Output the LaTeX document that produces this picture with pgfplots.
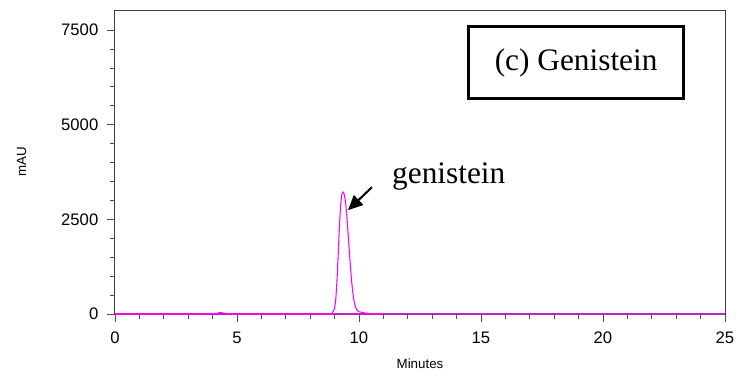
\documentclass[border=0pt]{standalone}
\usepackage{pgfplots}
\pgfplotsset{compat=1.18}
\usepackage{fontspec}
\setmainfont{Liberation Serif}
\setsansfont{Liberation Sans}
\usetikzlibrary{arrows.meta}
\definecolor{mag}{RGB}{255,0,255}
\definecolor{base}{RGB}{200,30,210}
\begin{document}
\begin{tikzpicture}
\begin{axis}[
  scale only axis,
  width=457.5pt, height=228pt,
  xmin=0, xmax=25, ymin=0, ymax=8030,
  xtick={0,5,...,25}, ytick={0,2500,5000,7500},
  minor x tick num=4, minor y tick num=4,
  tick align=outside,
  xtick pos=bottom, ytick pos=left,
  major tick length=6pt, minor tick length=3.75pt,
  every tick/.style={black!70, line width=0.6pt},
  axis line style={black!75, line width=0.75pt},
  tick label style={font=\sffamily\fontsize{12.5}{14}\selectfont},
  /pgf/number format/assume math mode=true,
  /pgf/number format/set thousands separator={},
  xticklabel style={yshift=-4pt},
  yticklabel style={xshift=-3pt},
  xlabel={Minutes}, ylabel={mAU},
  label style={font=\sffamily\fontsize{10}{12}\selectfont},
  xlabel style={at={(axis description cs:0.5,-0.162)}, anchor=center},
  ylabel style={at={(axis description cs:-0.153,0.5)}, anchor=center},
  clip=false,
]
\addplot[base, line width=1.1pt] coordinates {(0,0) (25,0)};
\addplot[mag, line width=0.8pt] coordinates {
(0,0) (4.0,0) (4.15,10) (4.3,40) (4.45,25) (4.6,5) (4.75,0) (8.8,0)
(8.9,20) (9.0,150) (9.05,400) (9.1,900) (9.15,1600) (9.2,2350) (9.25,2900)
(9.3,3180) (9.35,3220) (9.4,3150) (9.45,2950) (9.5,2600) (9.55,2150)
(9.6,1700) (9.65,1250) (9.7,850) (9.75,550) (9.8,330) (9.85,200) (9.9,120)
(10.0,60) (10.2,30) (10.5,10) (11,0)
};
\node[draw=black, line width=2.25pt, minimum width=161pt, minimum height=54pt,
      font=\fontsize{23.5}{26}\selectfont, inner sep=0pt] at (axis cs:18.9,6636) {(c) Genistein};
\node[anchor=base west, font=\fontsize{23.5}{26}\selectfont, inner sep=0pt] at (axis cs:11.35,3456) {genistein};
\draw[line width=1.5pt, -{Triangle[length=11pt,width=10pt]}] (axis cs:10.53,3350) -- (axis cs:9.55,2744);
\end{axis}
\path (current axis.south west) ++(-86.25pt,-46.5pt) coordinate (bl);
\path (current axis.north east) ++(10.5pt,7.5pt) coordinate (tr);
\useasboundingbox (bl) rectangle (tr);
\end{tikzpicture}
\end{document}
